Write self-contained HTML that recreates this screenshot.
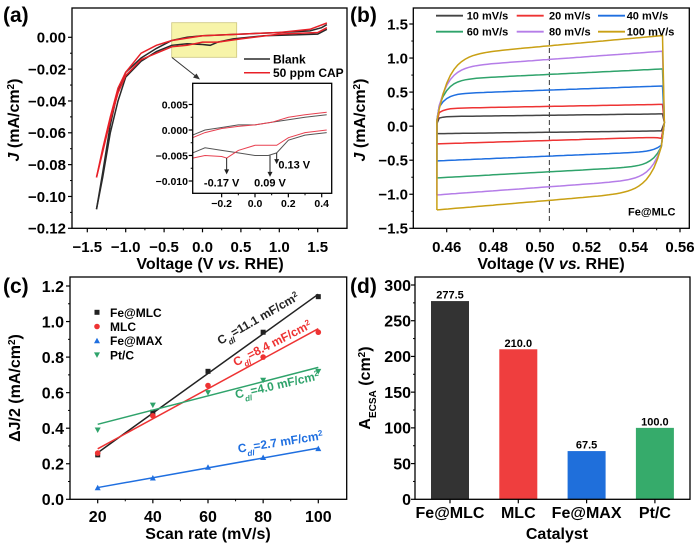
<!DOCTYPE html>
<html><head><meta charset="utf-8">
<style>
html,body{margin:0;padding:0;background:#fff;}
svg{display:block;font-family:"Liberation Sans",Arial,sans-serif;font-weight:bold;}
</style></head>
<body>
<svg id="fig" width="700" height="543" viewBox="0 0 700 543" xmlns="http://www.w3.org/2000/svg"></svg>
<script>
// ---------- Panel (a) data ----------
const aBlankUpV=[-1.38,-1.3,-1.2,-1.1,-1.0,-0.8,-0.6,-0.4,-0.2,0,0.5,1.0,1.4,1.55,1.62];
const aBlankUpJ=[-0.108,-0.085,-0.055,-0.033,-0.022,-0.013,-0.007,-0.002,0.000,0.001,0.002,0.003,0.004,0.006,0.008];
const aBlankLoV=[1.62,1.5,1.2,0.8,0.4,0.2,0.1,0.0,-0.2,-0.4,-0.6,-0.8,-1.0,-1.1,-1.2,-1.3,-1.38];
const aBlankLoJ=[0.005,0.002,0.0015,0.001,-0.001,-0.003,-0.005,-0.0045,-0.004,-0.005,-0.009,-0.015,-0.025,-0.04,-0.06,-0.088,-0.108];
const aCapUpV=[-1.38,-1.3,-1.2,-1.1,-1.0,-0.8,-0.6,-0.4,0,0.5,1.0,1.4,1.62];
const aCapUpJ=[-0.088,-0.07,-0.05,-0.032,-0.022,-0.01,-0.005,-0.002,0.001,0.002,0.003,0.005,0.009];
const aCapLoV=[1.62,1.5,1.0,0.5,0.2,0,-0.2,-0.4,-0.6,-0.8,-1.0,-1.1,-1.2,-1.3,-1.38];
const aCapLoJ=[0.006,0.003,0.002,-0.001,-0.003,-0.003,-0.005,-0.006,-0.01,-0.014,-0.024,-0.035,-0.052,-0.072,-0.088];
const aXTicks=[-1.5,-1.0,-0.5,0.0,0.5,1.0,1.5];
const aYTicks=[0,-0.02,-0.04,-0.06,-0.08,-0.10,-0.12];
// inset
const iV=[-0.374,-0.3,-0.2,-0.1,0.0,0.1,0.2,0.3,0.43];
const iBlankUp=[-0.001,0.0,0.0005,0.001,0.001,0.0015,0.002,0.0025,0.003];
const iCapUp=[-0.0015,-0.0005,0.0003,0.0007,0.001,0.0015,0.0025,0.003,0.0035];
const iBlankLoV=[-0.374,-0.3,-0.2,-0.1,0.0,0.08,0.13,0.2,0.3,0.43];
const iBlankLo=[-0.0045,-0.0035,-0.004,-0.0045,-0.005,-0.005,-0.0045,-0.002,-0.001,-0.0005];
const iCapLoV=[-0.374,-0.3,-0.2,-0.17,-0.1,0.0,0.13,0.2,0.3,0.43];
const iCapLo=[-0.0055,-0.005,-0.0052,-0.0055,-0.004,-0.003,-0.003,-0.0015,-0.0005,0.0];
const iXTicks=[-0.2,0.0,0.2,0.4];
const iYTicks=[0.005,0.000,-0.005,-0.010];
const peakV=[-0.17,0.09,0.13];
const peakLabels=["-0.17 V","0.09 V","0.13 V"];
// ---------- Panel (b) data ----------
const bRates=["10 mV/s","20 mV/s","40 mV/s","60 mV/s","80 mV/s","100 mV/s"];
const bUpMid=[0.16,0.29,0.53,0.76,0.98,1.18];
const bUpEnd=[0.18,0.32,0.59,0.84,1.10,1.33];
const bUpStart=[0.12,0.2,0.28,0.3,0.3,0.25];
const bLoMid=[-0.09,-0.21,-0.44,-0.67,-0.89,-1.09];
const bLoLeft=[-0.11,-0.26,-0.51,-0.76,-1.01,-1.23];
const bLoRight=[-0.07,-0.18,-0.28,-0.3,-0.3,-0.3];
const bXTicks=[0.46,0.48,0.50,0.52,0.54,0.56];
const bYTicks=[1.5,1.0,0.5,0.0,-0.5,-1.0,-1.5];
// ---------- Panel (c) data ----------
const cRates=[20,40,60,80,100];
const cFeMLC=[0.25,0.49,0.72,0.94,1.14];
const cMLC=[0.26,0.47,0.64,0.80,0.94];
const cFeMAX=[0.065,0.12,0.18,0.235,0.285];
const cPtC=[0.39,0.53,0.60,0.67,0.72];
const cXTicks=[20,40,60,80,100];
const cYTicks=[0,0.2,0.4,0.6,0.8,1.0,1.2];
// ---------- Panel (d) data ----------
const dCats=["Fe@MLC","MLC","Fe@MAX","Pt/C"];
const dVals=[277.5,210.0,67.5,100.0];
const dYTicks=[0,50,100,150,200,250,300];

const NS="http://www.w3.org/2000/svg";
const svg=document.getElementById('fig');
function el(tag,attrs,parent,txt){const e=document.createElementNS(NS,tag);for(const k in attrs)e.setAttribute(k,attrs[k]);if(txt!==undefined)e.textContent=txt;(parent||svg).appendChild(e);return e;}
function lin(d0,d1,r0,r1){return v=>r0+(v-d0)*(r1-r0)/(d1-d0);}
function fmt(v,d){return (v<0?"\u2212":"")+Math.abs(v).toFixed(d);}
function poly(xs,ys,X,Y){return xs.map((x,i)=>(i?"L":"M")+X(x).toFixed(1)+","+Y(ys[i]).toFixed(1)).join("");}
function frame(g,x0,y0,x1,y1){const r=el('rect',{x:x0,y:y0,width:x1-x0,height:y1-y0,fill:'none',stroke:'#000','stroke-width':1.3},g);}
function yAxis(g,ticks,Y,x0,dec,fs,lx,minorStep){
  ticks.forEach(t=>{el('line',{x1:x0-4,x2:x0,y1:Y(t),y2:Y(t),stroke:'#000','stroke-width':1.2},g);
    const tx=el('text',{x:lx,y:Y(t)+fs*0.36,'text-anchor':'end','font-size':fs},g,fmt(t,dec));
    });
  if(minorStep){for(let i=0;i<ticks.length-1;i++){const m=(ticks[i]+ticks[i+1])/2;el('line',{x1:x0-2,x2:x0,y1:Y(m),y2:Y(m),stroke:'#000','stroke-width':1},g);}}
}
function xAxis(g,ticks,X,y0,dec,fs,ly,minor){
  ticks.forEach(t=>{el('line',{x1:X(t),x2:X(t),y1:y0,y2:y0+4,stroke:'#000','stroke-width':1.2},g);
    const tx=el('text',{x:X(t),y:ly,'text-anchor':'middle','font-size':fs},g,fmt(t,dec));
    });
  if(minor){for(let i=0;i<ticks.length-1;i++){const m=(ticks[i]+ticks[i+1])/2;el('line',{x1:X(m),x2:X(m),y1:y0,y2:y0+2,stroke:'#000','stroke-width':1},g);}}
}

// ===== Panel A =====
{
const g=el('g',{});
const X=lin(-1.5,1.5,87.3,317.7), Y=lin(0,-0.12,37.3,228.3);
el('text',{x:3,y:22,'font-size':21},g,'(a)');
const hl=el('rect',{x:171.7,y:22.7,width:65,height:34.6,fill:'#f7f3a0',stroke:'#c8c070','stroke-width':0.8,opacity:0.9},g);

el('line',{x1:172,y1:57.5,x2:198,y2:78,stroke:'#333','stroke-width':1},g);
el('path',{d:'M200,79.5 L193,77.5 L196.5,73.5 Z',fill:'#333'},g);
[[aBlankUpV,aBlankUpJ,'#2a2a2a'],[aBlankLoV,aBlankLoJ,'#2a2a2a'],[aCapUpV,aCapUpJ,'#e82028'],[aCapLoV,aCapLoJ,'#e82028']].forEach(s=>{
  const p=el('path',{d:poly(s[0],s[1],X,Y),fill:'none',stroke:s[2],'stroke-width':1.5},g);
  });
frame(g,72,8,347,228.3);
yAxis(g,aYTicks,Y,72,2,15,66,true);
xAxis(g,aXTicks,X,228.3,1,15,252,true);
const xt=el('text',{x:210,y:269,'text-anchor':'middle','font-size':16},g);xt.innerHTML='Voltage (V <tspan font-style="italic">vs.</tspan> RHE)';

const yt=el('text',{transform:'translate(19,120) rotate(-90)','text-anchor':'middle','font-size':16},g);yt.innerHTML='<tspan font-style="italic">J</tspan> (mA/cm<tspan baseline-shift="super" font-size="10">2</tspan>)';

[['Blank','#2a2a2a',59],['50 ppm CAP','#e82028',72.7]].forEach(l=>{
  const lg=el('g',{},g);
  el('line',{x1:244,x2:270,y1:l[2],y2:l[2],stroke:l[1],'stroke-width':1.5},lg);
  el('text',{x:273,y:l[2]+4.5,'font-size':12},lg,l[0]);});
const ig=el('g',{},g);
const XI=lin(0,0.4,255,321.7), YI=lin(0,-0.01,130,181);
el('rect',{x:192.7,y:83.3,width:139,height:110,fill:'#fff'},ig);
[[iV,iBlankUp,'#555'],[iV,iCapUp,'#e84050'],[iBlankLoV,iBlankLo,'#555'],[iCapLoV,iCapLo,'#e84050']].forEach(s=>{
  const p=el('path',{d:poly(s[0],s[1],XI,YI),fill:'none',stroke:s[2],'stroke-width':1},ig);
  });
const peakJ=[-0.0055,-0.005,-0.0045], peakEnd=[-0.0085,-0.009,-0.0065];
peakV.forEach((v,i)=>{el('line',{x1:XI(v),x2:XI(v),y1:YI(peakJ[i]),y2:YI(peakEnd[i])-3,stroke:'#222','stroke-width':1},ig);
  el('path',{d:`M${XI(v)-2.5},${YI(peakEnd[i])-4} L${XI(v)+2.5},${YI(peakEnd[i])-4} L${XI(v)},${YI(peakEnd[i])+1} Z`,fill:'#222'},ig);});
const pl=[[XI(-0.2),YI(-0.0103)+4,'middle'],[XI(0.09),YI(-0.0103)+4,'middle'],[XI(0.14),YI(-0.0068)+4,'start']];
peakLabels.forEach((t,i)=>{const tx=el('text',{x:pl[i][0],y:pl[i][1],'text-anchor':pl[i][2],'font-size':11},ig,t);});
frame(ig,192.7,83.3,331.7,193.3);
yAxis(ig,iYTicks,YI,192.7,3,10.5,188,true);
xAxis(ig,iXTicks,XI,193.3,1,10.5,207,true);
}

// ===== Panel B =====
{
const g=el('g',{});
const X=lin(0.46,0.56,446.7,680), Y=lin(1.5,-1.5,24,228.3);
el('text',{x:350,y:22,'font-size':21},g,'(b)');
const cols=['#444','#ee3333','#1f6fe0','#2fa36b','#b57de8','#c9a014'];
el('line',{x1:X(0.504),x2:X(0.504),y1:40,y2:222,stroke:'#333','stroke-width':1,'stroke-dasharray':'5,3'},g);
bRates.forEach((r,i)=>{
  const xl=0.4558, xs=0.4568, xe=0.5525;
  const upPl=x=>bUpMid[i]+(bUpEnd[i]-bUpMid[i])*(x-0.504)/(xe-0.504);
  const tau=0.002+0.0006*i;
  let d=`M${X(xl)},${Y(bLoLeft[i])} L${X(xl)},${Y(bUpStart[i]*0.3)} L${X(xs)},${Y(bUpStart[i])}`;
  for(let k=1;k<=60;k++){const x=xs+(xe-xs)*k/60;const y=upPl(x)-(upPl(xs)-bUpStart[i])*Math.exp(-(x-xs)/tau);d+=` L${X(x).toFixed(1)},${Y(y).toFixed(1)}`;}
  d+=` L${X(xe+0.0008)},${Y(0.05)} L${X(xe-0.0005)},${Y(bLoRight[i])}`;
  const le=xe-0.0005;
  for(let k=1;k<=60;k++){const x=le-(le-xl)*k/60;const lp=bLoMid[i]+(bLoLeft[i]-bLoMid[i])*(0.504-x)/(0.504-xl);const y=lp-(lp-bLoRight[i])*Math.exp(-(le-x)/tau);d+=` L${X(x).toFixed(1)},${Y(y).toFixed(1)}`;}
  d+=' Z';
  const p=el('path',{d:d,fill:'none',stroke:cols[i],'stroke-width':1.5},g);
  
});
frame(g,413.3,8,689.3,228.3);
yAxis(g,bYTicks,Y,413.3,1,15,408,true);
xAxis(g,bXTicks,X,228.3,2,15,252,true);
const xt=el('text',{x:551,y:269,'text-anchor':'middle','font-size':16},g);xt.innerHTML='Voltage (V <tspan font-style="italic">vs.</tspan> RHE)';

const yt=el('text',{transform:'translate(365,120) rotate(-90)','text-anchor':'middle','font-size':16},g);yt.innerHTML='<tspan font-style="italic">J</tspan> (mA/cm<tspan baseline-shift="super" font-size="10">2</tspan>)';

const lx=[436,516.7,598], tx=[466.7,549,626.7];
bRates.forEach((r,i)=>{const c=i%3, row=Math.floor(i/3);const y=15.7+row*16;
  const lg=el('g',{},g);
  el('line',{x1:lx[c],x2:lx[c]+27,y1:y,y2:y,stroke:cols[i],'stroke-width':1.8},lg);
  el('text',{x:tx[c],y:y+4,'font-size':11},lg,r);});
const fl=el('text',{x:628,y:215.5,'font-size':11},g,'Fe@MLC');
}

// ===== Panel C =====
{
const g=el('g',{});
const X=lin(20,100,97.7,318.3), Y=lin(0,1.2,499.3,286);
el('text',{x:3,y:293,'font-size':21},g,'(c)');
const series=[[cFeMLC,'#222','sq','Fe@MLC'],[cMLC,'#ee3333','ci','MLC'],[cFeMAX,'#1f6fe0','tu','Fe@MAX'],[cPtC,'#2fa36b','td','Pt/C']];
function marker(k,x,y,c,p){let m;
  if(k==='sq')m=el('rect',{x:x-2.5,y:y-2.5,width:5,height:5,fill:c},p);
  else if(k==='ci')m=el('circle',{cx:x,cy:y,r:2.8,fill:c},p);
  else if(k==='tu')m=el('path',{d:`M${x},${y-3} L${x+3},${y+2.5} L${x-3},${y+2.5} Z`,fill:c},p);
  else m=el('path',{d:`M${x},${y+3} L${x+3},${y-2.5} L${x-3},${y-2.5} Z`,fill:c},p);
  return m;}
series.forEach(s=>{
  const ys=s[0];const n=ys.length;const mx=cRates.reduce((a,b)=>a+b)/n, my=ys.reduce((a,b)=>a+b)/n;
  let num=0,den=0;cRates.forEach((x,i)=>{num+=(x-mx)*(ys[i]-my);den+=(x-mx)*(x-mx);});
  const sl=num/den, ic=my-sl*mx;
  const ln=el('line',{x1:X(20),y1:Y(ic+sl*20),x2:X(100),y2:Y(ic+sl*100),stroke:s[1],'stroke-width':1.5},g);
  
  cRates.forEach((x,i)=>{const m=marker(s[2],X(x),Y(ys[i]),s[1],g);});
});
const ann=[[260,322,-30,'#222','11.1'],[274,347,-27,'#ee3333','8.4'],[278,389,-13,'#2fa36b','4.0'],[281,446,-9,'#1f6fe0','2.7']];
ann.forEach(a=>{const t=el('text',{transform:`translate(${a[0]},${a[1]}) rotate(${a[2]})`,'text-anchor':'middle','font-size':12,fill:a[3]},g);
  t.innerHTML=`C<tspan baseline-shift="sub" font-size="8" font-style="italic">dl</tspan>=${a[4]} mF/cm<tspan baseline-shift="super" font-size="8">2</tspan>`;
  });
frame(g,70,277,346.7,499.3);
yAxis(g,cYTicks,Y,70,1,16,64,true);
xAxis(g,cXTicks,X,499.3,0,16,522,true);
series.forEach((s,i)=>{const y=312.3+i*14.2;const lg=el('g',{},g);
  marker(s[2],97,y,s[1],lg);el('text',{x:110,y:y+4.5,'font-size':12},lg,s[3]);});
const xt=el('text',{x:208,y:539,'text-anchor':'middle','font-size':16},g,'Scan rate (mV/s)');
const yt=el('text',{transform:'translate(20,388) rotate(-90)','text-anchor':'middle','font-size':16},g);yt.innerHTML='\u0394J/2 (mA/cm<tspan baseline-shift="super" font-size="10">2</tspan>)';

}

// ===== Panel D =====
{
const g=el('g',{});
const Y=lin(0,300,499.3,285);const X=i=>450+i*68.3;
el('text',{x:350,y:293,'font-size':21},g,'(d)');
const cols=['#333333','#ef3e3e','#1f6fdb','#36ab6b'];
dVals.forEach((v,i)=>{const b=el('rect',{x:X(i)-19,y:Y(v),width:38,height:Y(0)-Y(v),fill:cols[i]},g);
  
  const t=el('text',{x:X(i),y:Y(v)-2.5,'text-anchor':'middle','font-size':11},g,v.toFixed(1));
  el('line',{x1:X(i),x2:X(i),y1:499.3,y2:503.3,stroke:'#000','stroke-width':1.2},g);
  const c=el('text',{x:X(i),y:518,'text-anchor':'middle','font-size':16},g,dCats[i]);});
frame(g,415,277,690,499.3);
yAxis(g,dYTicks,Y,415,0,16,411,true);
const xt=el('text',{x:557,y:539,'text-anchor':'middle','font-size':16},g,'Catalyst');
const yt=el('text',{transform:'translate(370,388) rotate(-90)','text-anchor':'middle','font-size':16},g);yt.innerHTML='A<tspan baseline-shift="sub" font-size="10">ECSA</tspan> (cm<tspan baseline-shift="super" font-size="10">2</tspan>)';

}
</script>
</body></html>
